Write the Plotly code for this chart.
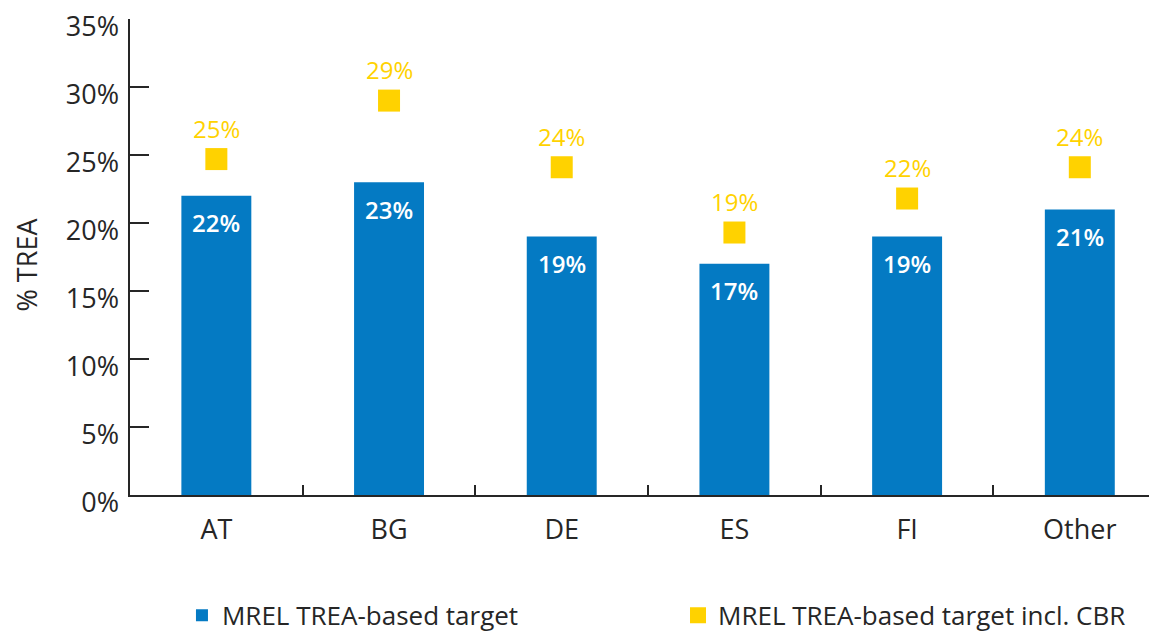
import plotly.graph_objects as go

categories = ["AT", "BG", "DE", "ES", "FI", "Other"]
trea_target = [22.0, 23.0, 19.0, 17.0, 19.0, 21.0]
trea_target_cbr = [24.7, 29.0, 24.1, 19.3, 21.8, 24.1]
y_ticks = [0, 5, 10, 15, 20, 25, 30, 35]

BLUE = "#047AC3"
YELLOW = "#FFD200"
DARK = "#262626"
FONT = "Open Sans"

fig = go.Figure()
fig.add_trace(go.Bar(
    x=categories, y=trea_target, name="MREL TREA-based target",
    marker=dict(color=BLUE, line=dict(width=0)), width=0.405, legend="legend",
))
fig.add_trace(go.Scatter(
    x=categories, y=trea_target_cbr, name="MREL TREA-based target incl. CBR",
    mode="markers", marker=dict(symbol="square", size=22, color=YELLOW, line=dict(width=0)),
    legend="legend2",
))
# invisible helper so that the label-carrying axis (y2) is drawn
fig.add_trace(go.Scatter(
    x=categories, y=trea_target, yaxis="y2", mode="markers",
    marker=dict(opacity=0), showlegend=False, hoverinfo="skip",
))

annotations = []
for c, v in zip(categories, trea_target):
    annotations.append(dict(x=c, y=v, xref="x", yref="y", text=f"{v:.0f}%", showarrow=False,
                            yanchor="middle", yshift=-27,
                            font=dict(family=FONT, size=24, color="white", weight=600)))
for c, v in zip(categories, trea_target_cbr):
    annotations.append(dict(x=c, y=v, xref="x", yref="y", text=f"{v:.0f}%", showarrow=False,
                            yanchor="middle", yshift=31,
                            font=dict(family=FONT, size=24, color=YELLOW, weight=500)))

legend_common = dict(orientation="h", yanchor="bottom", y=-0.2805, xanchor="left",
                     font=dict(family=FONT, size=26, color=DARK),
                     bgcolor="rgba(0,0,0,0)", borderwidth=0)

H = 484.0
shift = 8.0 / H

fig.update_layout(
    width=1149, height=631,
    margin=dict(l=122, r=0, t=11, b=136, autoexpand=False),
    paper_bgcolor="white", plot_bgcolor="rgba(0,0,0,0)",
    font=dict(family=FONT, size=27, color=DARK),
    showlegend=True,
    legend=dict(x=0.0506, **legend_common),
    legend2=dict(x=0.5336, **legend_common),
    annotations=annotations,
    xaxis=dict(range=[-0.5, 5.447], showgrid=False, zeroline=False, automargin=False,
               showline=True, linecolor=DARK, linewidth=1.5,
               ticks="inside", tickson="boundaries", ticklen=10, tickwidth=1.5, tickcolor=DARK,
               ticklabelstandoff=10,
               tickfont=dict(family=FONT, size=27, color=DARK)),
    # main value axis: line and tick marks
    yaxis=dict(range=[0, 35], domain=[shift, 1], tickvals=y_ticks, showticklabels=False,
               showgrid=False, zeroline=False, automargin=False,
               showline=True, linecolor=DARK, linewidth=1.5,
               ticks="inside", ticklen=19, tickwidth=1.5, tickcolor=DARK),
    # same scale, carrying the tick labels (set slightly lower as in the reference)
    yaxis2=dict(range=[0, 35], domain=[0, 1 - shift], anchor="x",
                tickvals=y_ticks, ticktext=[f"{t}%" for t in y_ticks],
                showgrid=False, zeroline=False, automargin=False, showline=False, ticks="",
                ticklabelstandoff=10, ticklabeloverflow="allow",
                tickfont=dict(family=FONT, size=27, color=DARK),
                title=dict(text="% TREA", font=dict(family=FONT, size=27, color=DARK), standoff=31)),
)

fig.write_html("out.html")
